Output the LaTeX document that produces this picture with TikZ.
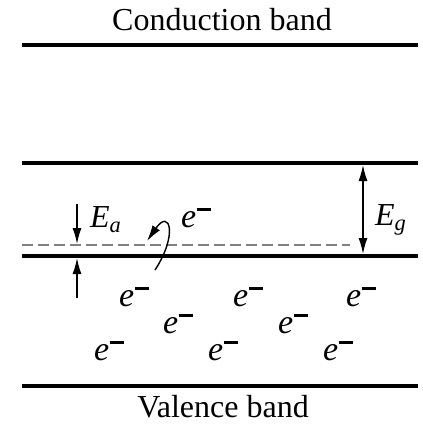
\documentclass[tikz,border=0pt]{standalone}
\usepackage{fontspec}
\setmainfont{Liberation Serif}
\usetikzlibrary{arrows.meta}

\newcommand{\elec}{\textit{e}\kern0.3pt\rule[1.05ex]{0.42em}{0.09em}}

\begin{document}
\begin{tikzpicture}[x=0.5pt, y=-0.5pt,
  band/.style={line width=2.3pt},
  lvl/.style={gray, line width=1.4pt, dash pattern=on 5.5pt off 2.5pt},
  arr/.style={line width=0.7pt, -{Latex[length=8pt, width=4.5pt]}},
  lbl/.style={font=\fontsize{16}{18}\selectfont, inner sep=0pt},
  elc/.style={font=\fontsize{17}{18}\selectfont, inner sep=0pt}]
  \useasboundingbox (0,0) rectangle (423,430);

  % band edges
  \coordinate (CBl) at (22,45);   \coordinate (CBr) at (418,45);
  \coordinate (ECl) at (22,163);  \coordinate (ECr) at (418,163);
  \coordinate (EAl) at (22,245);  \coordinate (EAr) at (350,245);
  \coordinate (EVl) at (22,256);  \coordinate (EVr) at (418,256);
  \coordinate (VBl) at (22,386);  \coordinate (VBr) at (418,386);

  \draw[band] (CBl)--(CBr);
  \draw[band] (ECl)--(ECr);
  \draw[lvl]  (EAl)--(EAr);
  \draw[band] (EVl)--(EVr);
  \draw[band] (VBl)--(VBr);

  % gap E_g
  \coordinate (Gt) at (363,165);
  \coordinate (Gb) at (363,254);
  \draw[arr, {Latex[length=8pt, width=4.5pt]}-{Latex[length=8pt, width=4.5pt]}] (Gt)--(Gb);

  % E_a markers
  \coordinate (Atop) at (77,204);
  \coordinate (Aup)  at (77,244);
  \coordinate (Abot) at (77,298);
  \coordinate (Alow) at (77,258);
  \draw[arr] (Atop)--(Aup);
  \draw[arr] (Abot)--(Alow);

  % electron caught by acceptor
  \coordinate (Js) at (155,270);
  \coordinate (Je) at (147,241);
  \draw[arr] (Js) .. controls (178,235) and (170,208) .. (Je);

  \node[lbl] (cb) at (222,20) {Conduction band};
  \node[lbl] (vb) at (223,407) {Valence band};
  \node[lbl] (Ea) at (106,220) {\textit{E}\textsubscript{\textit{a}}};
  \node[lbl] (Eg) at (391,220) {\textit{E}\textsubscript{\textit{g}}};
  \node[elc] (e0) at (196,218) {\elec};

  % electrons left in the valence band
  \node[elc] (e1) at (134,297) {\elec};
  \node[elc] (e2) at (248,297) {\elec};
  \node[elc] (e3) at (361,297) {\elec};
  \node[elc] (e4) at (178,324) {\elec};
  \node[elc] (e5) at (293,324) {\elec};
  \node[elc] (e6) at (109,351) {\elec};
  \node[elc] (e7) at (223,351) {\elec};
  \node[elc] (e8) at (338,351) {\elec};
\end{tikzpicture}
\end{document}
